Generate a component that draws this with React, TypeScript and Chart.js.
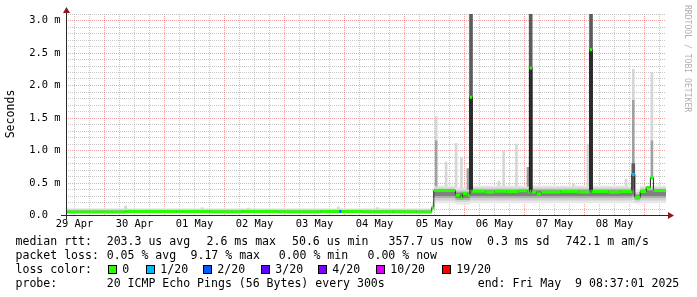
import React, { useEffect, useRef } from "react";
import { Chart, registerables } from "chart.js";

Chart.register(...registerables);

// ---------- data (time = days since 29 Apr 00:00, values in ms) ----------
const dayLabels = ["29 Apr", "30 Apr", "01 May", "02 May", "03 May", "04 May", "05 May", "06 May", "07 May", "08 May"];
const X_MIN = 0.36;
const X_MAX = 10.36;
const Y_MAX = 3.1;

const medianTimes = [0.36, 1.35, 2.2, 2.75, 3.3, 3.9, 4.6, 4.92, 4.95, 5.3, 5.8, 6.2, 6.455, 6.49, 6.85, 6.93, 6.97, 7.05, 7.09, 7.13, 7.35, 7.5, 7.7, 7.9, 8.05, 8.085, 8.125, 8.2, 8.28, 8.6, 8.9, 9.09, 9.13, 9.4, 9.6, 9.79, 9.84, 9.93, 10.03, 10.1, 10.15, 10.36];
const medianValues = [0.055, 0.062, 0.06, 0.056, 0.06, 0.058, 0.06, 0.06, 0.06, 0.058, 0.056, 0.055, 0.12, 0.385, 0.31, 0.27, 0.34, 0.31, 1.82, 0.375, 0.36, 0.375, 0.37, 0.38, 0.36, 2.27, 0.36, 0.33, 0.36, 0.37, 0.36, 2.55, 0.37, 0.36, 0.37, 0.63, 0.28, 0.37, 0.43, 0.58, 0.385, 0.385];
const medianLoss = [0, 0, 0, 0, 0, 0, 0, 2, 0, 0, 0, 0, 0, 0, 0, 0, 0, 0, 0, 0, 0, 0, 0, 0, 0, 0, 0, 0, 0, 0, 0, 0, 0, 0, 0, 1, 0, 0, 0, 0, 0, 0];

const lossLabels = ["0", "1/20", "2/20", "3/20", "4/20", "10/20", "19/20"];
const lossColors = ["#26ff00", "#00b8ff", "#0059ff", "#5e00ff", "#7e00ff", "#dd00ff", "#ff0000"];

// smoke bands (stepped, value holds until next time)
const bandTimes = [0.36, 6.455, 6.49, 6.85, 7.09, 7.13, 9.79, 9.84, 9.93, 10.36];
const band1Lo = [0.035, 0.08, 0.19, 0.17, 0.19, 0.19, 0.19, 0.18, 0.19, 0.19];
const band1Hi = [0.11, 0.2, 0.46, 0.44, 0.46, 0.46, 0.5, 0.4, 0.46, 0.46];
const band2Lo = [0.042, 0.09, 0.23, 0.21, 0.23, 0.23, 0.24, 0.21, 0.23, 0.23];
const band2Hi = [0.095, 0.16, 0.43, 0.4, 0.43, 0.43, 0.46, 0.36, 0.43, 0.43];
const band3Lo = [0.048, 0.1, 0.27, 0.24, 0.27, 0.27, 0.28, 0.24, 0.27, 0.27];
const band3Hi = [0.08, 0.14, 0.405, 0.37, 0.405, 0.405, 0.42, 0.33, 0.405, 0.405];
const band4Lo = [0.052, 0.11, 0.3, 0.27, 0.3, 0.3, 0.31, 0.26, 0.3, 0.3];
const band4Hi = [0.068, 0.13, 0.385, 0.35, 0.385, 0.385, 0.4, 0.31, 0.385, 0.385];

// smoke spikes
const lightSpikeTimes = [1.355, 2.63, 3.4, 4.9, 5.55, 6.53, 6.695, 6.862, 6.95, 7.575, 7.655, 7.867, 8.817, 9.06, 9.695, 9.815, 10.125];
const lightSpikeLo = [0.09, 0.09, 0.09, 0.09, 0.09, 1.15, 0.45, 0.44, 0.42, 0.45, 0.45, 0.45, 0.45, 0.45, 0.45, 1.77, 1.15];
const lightSpikeHi = [0.15, 0.12, 0.115, 0.13, 0.12, 1.52, 0.82, 1.11, 0.89, 0.53, 0.99, 1.1, 0.49, 1.1, 0.56, 2.25, 2.2];
const midSpikeTimes = [6.53, 7.06, 8.06, 9.815, 10.125];
const midSpikeLo = [0.45, 0.4, 0.45, 0.8, 0.58];
const midSpikeHi = [1.15, 0.72, 0.74, 1.77, 1.15];
const darkSpikeTimes = [7.11, 8.105, 9.11, 9.815];
const darkSpikeLo = [1.82, 2.27, 2.55, 0.4];
const darkSpikeHi = [3.1, 3.1, 3.1, 0.8];
const blackSpikeTimes = [7.11, 8.105, 9.11];
const blackSpikeLo = [0.4, 0.4, 0.4];
const blackSpikeHi = [1.82, 2.27, 2.55];

// legend texts
const rttTexts = ["median rtt:", "203.3 us avg", "2.6 ms max", "50.6 us min", "357.7 us now", "0.3 ms sd", "742.1 m am/s"];
const lossTexts = ["packet loss:", "0.05 % avg", "9.17 % max", "0.00 % min", "0.00 % now"];
const probeTexts = ["probe:", "20 ICMP Echo Pings (56 Bytes) every 300s", "end: Fri May  9 08:37:01 2025"];
const lossColorTitle = "loss color:";
const yTitle = "Seconds";
const watermark = "RRDTOOL / TOBI OETIKER";

// ---------- layout / style ----------
const W = 697;
const H = 297;
const PLOT_LEFT = 66;
const PLOT_RIGHT = 666;
const PLOT_BOTTOM = 215.5;
const MONO = "'DejaVu Sans Mono', monospace";
const MAJOR = "rgba(222,80,80,0.5)";
const MINOR = "rgba(143,143,143,0.5)";
const rttX = [15.5, 106.7, 206.5, 292, 388.5, 487, 565.5];
const lossX = [15.5, 106.7, 190.5, 278.7, 367.5];
const probeX = [15.5, 106.7, 477.7];
const boxX = [108, 146, 203, 261, 318, 376, 442];
const rowBase = [244.6, 258.6, 272.6, 286.6];

const xy = (xs: number[], ys: (number | null)[]) => xs.map((x, i) => ({ x, y: ys[i] }));
const bars = (xs: number[], lo: number[], hi: number[]) => xs.map((x, i) => ({ x, y: [lo[i], hi[i]] }));

const decorPlugin = {
  id: "rrdDecor",
  afterDraw(chart: any) {
    const { ctx, chartArea: a } = chart;
    const y0 = Math.floor(chart.scales.y.getPixelForValue(0)) + 0.5;
    const xl = a.left + 0.5;
    ctx.save();
    // axes
    ctx.strokeStyle = "#2a2a2a";
    ctx.lineWidth = 1;
    ctx.beginPath();
    ctx.moveTo(a.left - 5, y0);
    ctx.lineTo(a.right + 3, y0);
    ctx.moveTo(xl, y0 + 4);
    ctx.lineTo(xl, a.top - 4);
    ctx.stroke();
    // arrows
    ctx.fillStyle = "#8b1a1a";
    ctx.beginPath();
    ctx.moveTo(a.right + 2, y0 - 3.5);
    ctx.lineTo(a.right + 8, y0);
    ctx.lineTo(a.right + 2, y0 + 3.5);
    ctx.closePath();
    ctx.fill();
    ctx.beginPath();
    ctx.moveTo(xl - 3.5, a.top - 1);
    ctx.lineTo(xl, a.top - 7);
    ctx.lineTo(xl + 3.5, a.top - 1);
    ctx.closePath();
    ctx.fill();

    // y title
    ctx.fillStyle = "#000";
    ctx.font = `11.55px ${MONO}`;
    ctx.save();
    ctx.translate(11, 114);
    ctx.rotate(-Math.PI / 2);
    ctx.textAlign = "center";
    ctx.textBaseline = "middle";
    ctx.fillText(yTitle, 0, 0);
    ctx.restore();

    // watermark
    ctx.save();
    ctx.translate(687, 5);
    ctx.rotate(Math.PI / 2);
    ctx.textAlign = "left";
    ctx.textBaseline = "middle";
    ctx.font = `8.1px ${MONO}`;
    ctx.fillStyle = "#b0b0b0";
    ctx.fillText(watermark, 0, 0);
    ctx.restore();

    // legend
    ctx.textAlign = "left";
    ctx.textBaseline = "alphabetic";
    ctx.fillStyle = "#000";
    ctx.font = `11.55px ${MONO}`;
    rttTexts.forEach((t, i) => ctx.fillText(t, rttX[i], rowBase[0]));
    lossTexts.forEach((t, i) => ctx.fillText(t, lossX[i], rowBase[1]));
    ctx.fillText(lossColorTitle, 15.5, rowBase[2]);
    lossLabels.forEach((t, i) => {
      const bx = boxX[i];
      ctx.fillStyle = lossColors[i];
      ctx.fillRect(bx, 265, 9, 9);
      ctx.strokeStyle = "#000";
      ctx.strokeRect(bx + 0.5, 265.5, 8, 8);
      ctx.fillStyle = "#000";
      ctx.fillText(t, bx + 14.3, rowBase[2]);
    });
    probeTexts.forEach((t, i) => ctx.fillText(t, probeX[i], rowBase[3]));
    ctx.restore();
  },
};

export default function App() {
  const ref = useRef<HTMLCanvasElement>(null);

  useEffect(() => {
    const bandLayers: [number[], number[], string][] = [
      [band1Lo, band1Hi, "#e8e8e8"],
      [band2Lo, band2Hi, "#d0d0d0"],
      [band3Lo, band3Hi, "#adadad"],
      [band4Lo, band4Hi, "#808080"],
    ];
    const datasets: any[] = [];
    bandLayers.forEach(([lo, hi, color], k) => {
      const common = {
        type: "line",
        stepped: true,
        borderColor: "rgba(0,0,0,0)",
        borderWidth: 1,
        pointRadius: 0,
        order: 40 - k * 2,
      };
      datasets.push({ ...common, data: xy(bandTimes, lo), fill: false });
      datasets.push({ ...common, data: xy(bandTimes, hi), fill: "-1", backgroundColor: color });
    });
    const barCommon = { type: "bar", grouped: false, borderWidth: 0 };
    datasets.push({ ...barCommon, data: bars(lightSpikeTimes, lightSpikeLo, lightSpikeHi), backgroundColor: "#d6d6d6", barThickness: 2, order: 20 });
    datasets.push({ ...barCommon, data: bars(midSpikeTimes, midSpikeLo, midSpikeHi), backgroundColor: "#a0a0a0", barThickness: 2, order: 19 });
    datasets.push({ ...barCommon, data: bars(darkSpikeTimes, darkSpikeLo, darkSpikeHi), backgroundColor: "#5c5c5c", barThickness: 3, order: 18 });
    datasets.push({ ...barCommon, data: bars(blackSpikeTimes, blackSpikeLo, blackSpikeHi), backgroundColor: "#303030", barThickness: 3, order: 17 });

    datasets.push({
      type: "line",
      data: xy(medianTimes, medianValues),
      stepped: true,
      borderColor: "#202020",
      borderWidth: 1,
      pointRadius: 0,
      fill: false,
      order: 2,
    });

    const greenData: { x: number; y: number | null }[] = [];
    for (let i = 0; i < medianTimes.length - 1; i++) {
      greenData.push({ x: medianTimes[i], y: medianValues[i] });
      greenData.push({ x: medianTimes[i + 1], y: medianValues[i] });
      greenData.push({ x: medianTimes[i + 1], y: null });
    }
    datasets.push({
      type: "line",
      data: greenData,
      borderColor: lossColors[0],
      borderWidth: 3,
      borderCapStyle: "butt",
      pointRadius: 0,
      fill: false,
      spanGaps: false,
      order: 1,
      segment: {
        borderColor: (c: any) => lossColors[medianLoss[Math.floor(c.p0DataIndex / 3)]],
      },
    });

    const xTicks: number[] = [];
    for (let q = Math.ceil(X_MIN * 4); q <= Math.floor(X_MAX * 4); q++) xTicks.push(q / 4);
    const yTicks: number[] = [];
    for (let q = 0; q <= Math.round(Y_MAX * 10); q++) yTicks.push(q / 10);

    const chart = new Chart(ref.current as HTMLCanvasElement, {
      type: "bar",
      data: { datasets },
      plugins: [decorPlugin],
      options: {
        animation: false,
        responsive: false,
        maintainAspectRatio: false,
        events: [],
        layout: { padding: { left: 0, right: W - PLOT_RIGHT, top: 14, bottom: 0 } },
        plugins: { legend: { display: false }, tooltip: { enabled: false } },
        scales: {
          x: {
            type: "linear",
            min: X_MIN,
            max: X_MAX,
            offset: false,
            afterBuildTicks: (s: any) => {
              s.ticks = xTicks.map((v) => ({ value: v }));
            },
            afterFit: (s: any) => {
              s.height = H - PLOT_BOTTOM;
            },
            grid: {
              offset: false,
              drawTicks: false,
              lineWidth: 1,
              color: (c: any) => (Math.abs(c.tick.value - Math.round(c.tick.value)) < 1e-6 ? MAJOR : MINOR),
            },
            border: { display: false, dash: [1, 1] },
            ticks: {
              autoSkip: false,
              maxRotation: 0,
              minRotation: 0,
              padding: 3,
              color: "#000",
              font: { family: MONO, size: 10.4 },
              callback: (v: any) => {
                const q = Math.round(Number(v) * 4);
                return q % 4 === 2 ? dayLabels[(q - 2) / 4] ?? "" : "";
              },
            },
          },
          y: {
            type: "linear",
            min: 0,
            max: Y_MAX,
            afterBuildTicks: (s: any) => {
              s.ticks = yTicks.map((v) => ({ value: v }));
            },
            afterFit: (s: any) => {
              s.width = PLOT_LEFT;
            },
            grid: {
              drawTicks: false,
              lineWidth: 1,
              color: (c: any) => {
                const v = c.tick.value * 2;
                return Math.abs(v - Math.round(v)) < 1e-6 ? MAJOR : MINOR;
              },
            },
            border: { display: false, dash: [1, 1] },
            ticks: {
              autoSkip: false,
              padding: 5.5,
              color: "#000",
              font: { family: MONO, size: 10.4 },
              callback: (v: any) => {
                const n = Number(v);
                const d = n * 2;
                if (Math.abs(d - Math.round(d)) > 1e-6) return "";
                return n === 0 ? "0.0  " : n.toFixed(1) + " m";
              },
            },
          },
        },
      } as any,
    } as any);
    return () => chart.destroy();
  }, []);

  return (
    <div style={{ position: "fixed", left: 0, top: 0, width: W, height: H, background: "#fff" }}>
      <canvas ref={ref} width={W} height={H} style={{ display: "block", width: W, height: H }} />
    </div>
  );
}
